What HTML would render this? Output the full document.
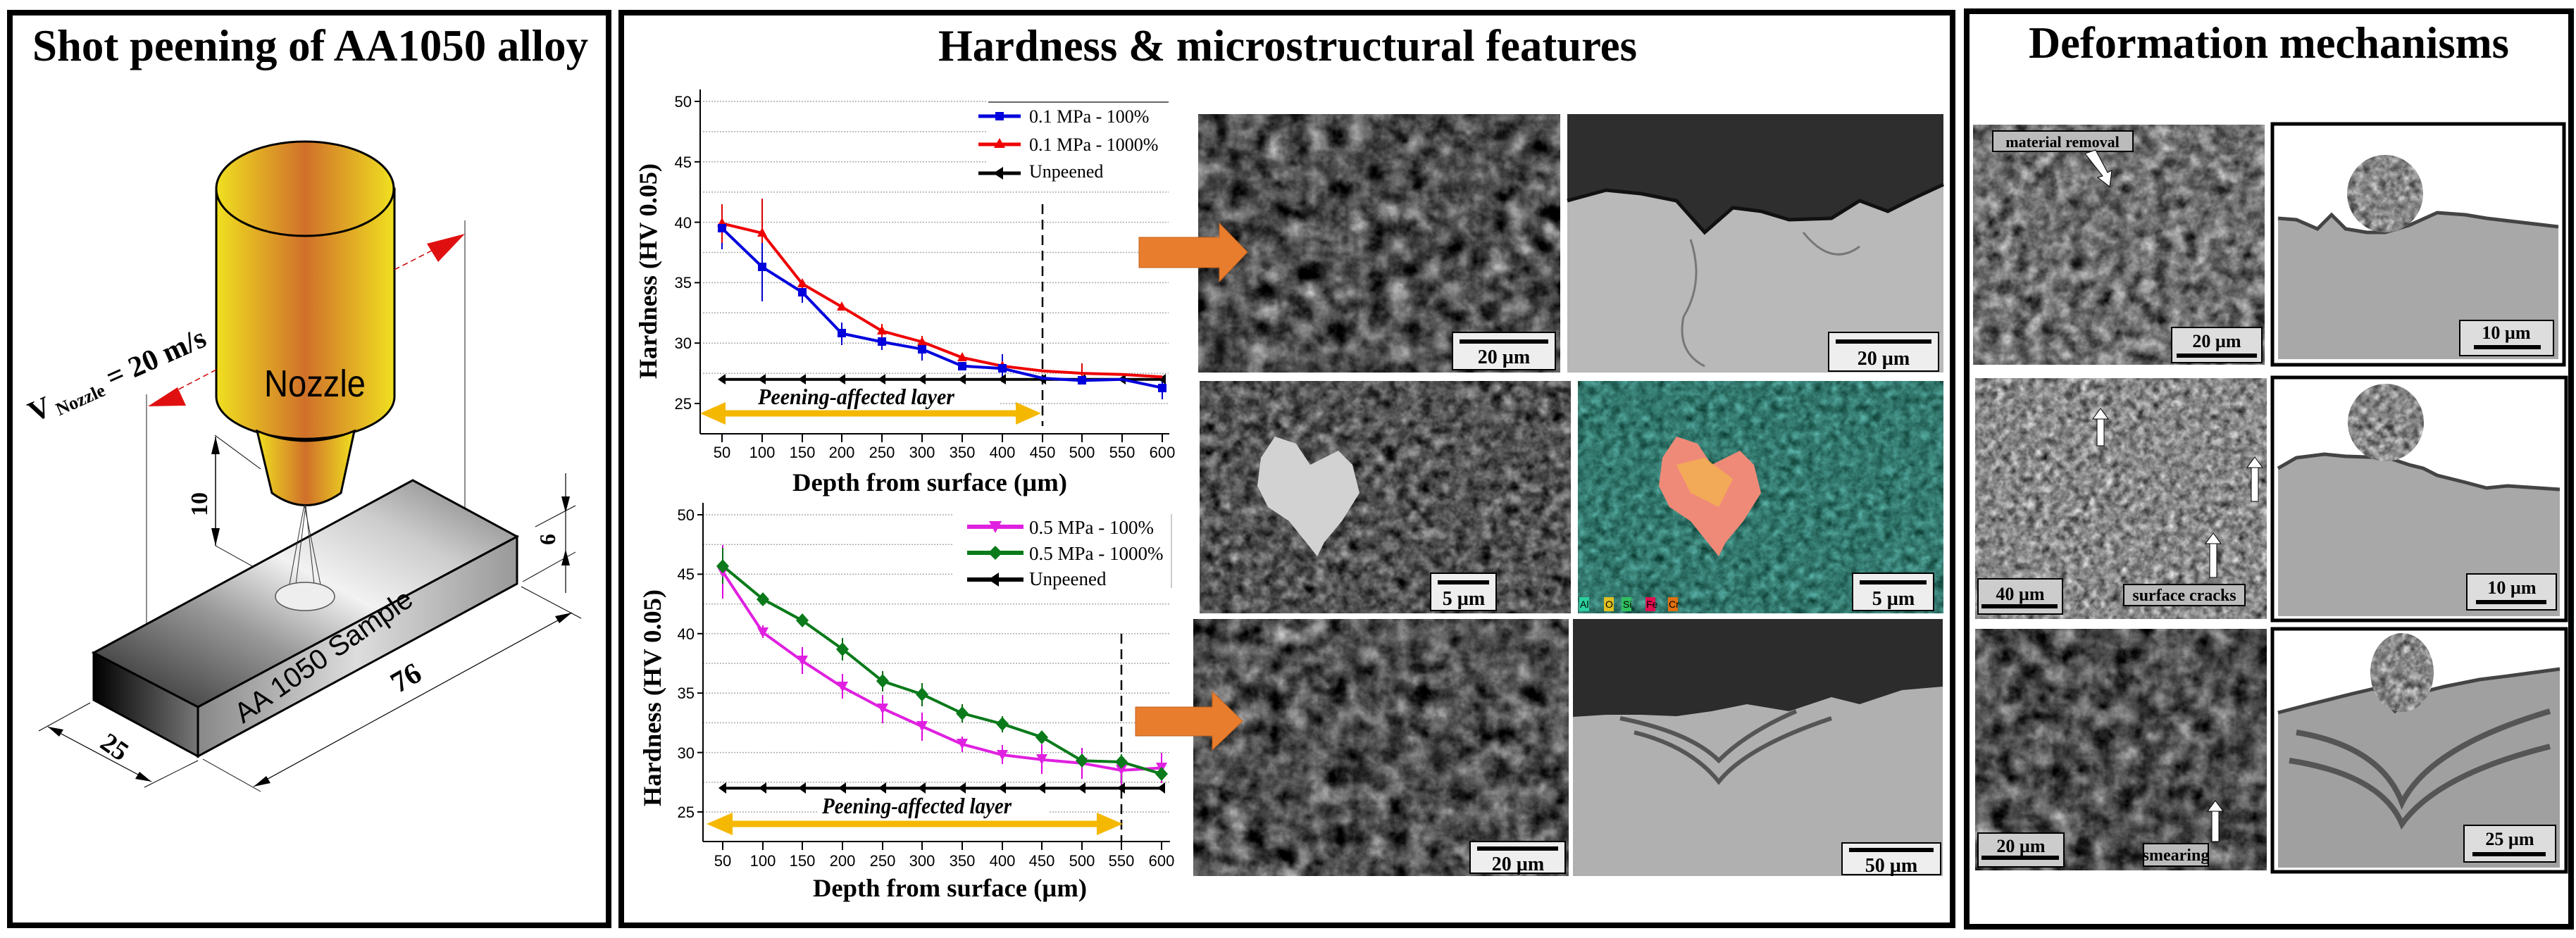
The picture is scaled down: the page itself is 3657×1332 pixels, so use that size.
<!DOCTYPE html>
<html><head><meta charset="utf-8"><style>
html,body{margin:0;padding:0;background:#fff;}
svg{display:block;}
.ser{font-family:"Liberation Serif",serif;}
.san{font-family:"Liberation Sans",sans-serif;}
</style></head><body>
<svg width="3657" height="1332" viewBox="0 0 3657 1332" xmlns="http://www.w3.org/2000/svg">
<defs>
<filter id="fD" x="0" y="0" width="100%" height="100%" color-interpolation-filters="sRGB"><feTurbulence type="fractalNoise" baseFrequency="0.035" numOctaves="4" seed="3"/><feColorMatrix type="matrix" values="0.55 0.55 0.55 0 -0.52 0.55 0.55 0.55 0 -0.52 0.55 0.55 0.55 0 -0.52 0 0 0 0 1"/><feComposite in2="SourceGraphic" operator="in"/></filter>
<filter id="fM" x="0" y="0" width="100%" height="100%" color-interpolation-filters="sRGB"><feTurbulence type="fractalNoise" baseFrequency="0.05" numOctaves="4" seed="9"/><feColorMatrix type="matrix" values="0.5 0.5 0.5 0 -0.32 0.5 0.5 0.5 0 -0.32 0.5 0.5 0.5 0 -0.32 0 0 0 0 1"/><feComposite in2="SourceGraphic" operator="in"/></filter>
<filter id="fL" x="0" y="0" width="100%" height="100%" color-interpolation-filters="sRGB"><feTurbulence type="fractalNoise" baseFrequency="0.09" numOctaves="3" seed="7"/><feColorMatrix type="matrix" values="0.5 0.5 0.5 0 -0.22 0.5 0.5 0.5 0 -0.22 0.5 0.5 0.5 0 -0.22 0 0 0 0 1"/><feComposite in2="SourceGraphic" operator="in"/></filter>
<filter id="fG" x="0" y="0" width="100%" height="100%" color-interpolation-filters="sRGB"><feTurbulence type="fractalNoise" baseFrequency="0.06" numOctaves="3" seed="4"/><feColorMatrix type="matrix" values="0.45 0.45 0.45 0 -0.35 0.45 0.45 0.45 0 -0.35 0.45 0.45 0.45 0 -0.35 0 0 0 0 1"/><feComposite in2="SourceGraphic" operator="in"/></filter>
<filter id="fT" x="0" y="0" width="100%" height="100%" color-interpolation-filters="sRGB"><feTurbulence type="fractalNoise" baseFrequency="0.08" numOctaves="3" seed="2"/><feColorMatrix type="matrix" values="0.2 0.2 0.2 0 -0.1 0.3 0.3 0.3 0 0.02 0.3 0.3 0.3 0 -0.02 0 0 0 0 1"/><feComposite in2="SourceGraphic" operator="in"/></filter>
<linearGradient id="noz" x1="0" x2="1" y1="0" y2="0"><stop offset="0" stop-color="#f0e020"/><stop offset="0.5" stop-color="#d0702a"/><stop offset="1" stop-color="#f0e020"/></linearGradient>
<linearGradient id="top" x1="0" x2="1" y1="1" y2="0"><stop offset="0" stop-color="#222"/><stop offset="0.35" stop-color="#999"/><stop offset="0.55" stop-color="#f2f2f2"/><stop offset="0.75" stop-color="#ccc"/><stop offset="1" stop-color="#777"/></linearGradient>
<linearGradient id="fr" x1="0" x2="1"><stop offset="0" stop-color="#888"/><stop offset="0.5" stop-color="#ddd"/><stop offset="1" stop-color="#999"/></linearGradient>
<linearGradient id="sd" x1="0" x2="1"><stop offset="0" stop-color="#000"/><stop offset="1" stop-color="#777"/></linearGradient>
</defs>

<rect x="14" y="18" width="850" height="1296" fill="none" stroke="#000" stroke-width="8"/>
<rect x="882" y="18" width="1890" height="1296" fill="none" stroke="#000" stroke-width="8"/>
<rect x="2792" y="16" width="858" height="1300" fill="none" stroke="#000" stroke-width="8"/>

<text class="ser" x="46" y="86" font-size="64" font-weight="bold" textLength="789" lengthAdjust="spacingAndGlyphs">Shot peening of AA1050 alloy</text>
<text class="ser" x="1332" y="86" font-size="64" font-weight="bold" textLength="992" lengthAdjust="spacingAndGlyphs">Hardness &amp; microstructural features</text>
<text class="ser" x="2880" y="82" font-size="64" font-weight="bold" textLength="682" lengthAdjust="spacingAndGlyphs">Deformation mechanisms</text>

<!-- LEFT PANEL DRAWING -->
<line x1="660" y1="313" x2="660" y2="760" stroke="#444" stroke-width="1.2"/>
<line x1="208" y1="560" x2="208" y2="964" stroke="#444" stroke-width="1.2"/>
<path d="M307,268 L307,563 A126,60 0 0 0 560,563 L560,268 Z" fill="url(#noz)" stroke="#000" stroke-width="3"/>
<ellipse cx="433" cy="268" rx="126" ry="67" fill="url(#noz)" stroke="#000" stroke-width="3"/>
<path d="M365,612 L386,700 Q434,735 484,700 L503,612 Q434,640 365,612 Z" fill="url(#noz)" stroke="#000" stroke-width="3"/>
<text class="san" x="375" y="563" font-size="54" textLength="144" lengthAdjust="spacingAndGlyphs">Nozzle</text>
<line x1="560" y1="383" x2="640" y2="342" stroke="#c00" stroke-width="1.5" stroke-dasharray="8,5"/>
<polygon points="660,332 606,346 622,372" fill="#e01010"/>
<line x1="307" y1="525" x2="240" y2="560" stroke="#c00" stroke-width="1.5" stroke-dasharray="8,5"/>
<polygon points="210,577 252,550 264,576" fill="#e01010"/>
<text class="ser" transform="translate(48,600) rotate(-24)" font-size="42" font-weight="bold">V<tspan font-size="26" dy="6"> Nozzle</tspan><tspan dy="-6"> = 20 m/s</tspan></text>
<line x1="305" y1="618" x2="370" y2="666" stroke="#000" stroke-width="1"/>
<line x1="306" y1="620" x2="306" y2="775" stroke="#000" stroke-width="1.5"/>
<polygon points="306,620 300,645 312,645" fill="#000"/>
<polygon points="306,775 300,750 312,750" fill="#000"/>
<line x1="306" y1="775" x2="360" y2="805" stroke="#000" stroke-width="1"/>
<text class="ser" transform="translate(294,716) rotate(-90)" font-size="34" font-weight="bold" text-anchor="middle">10</text>
<polygon points="133,927 586,682 734,762 281,1004" fill="url(#top)" stroke="#000" stroke-width="3"/>
<polygon points="281,1004 734,762 734,829 281,1074" fill="url(#fr)" stroke="#000" stroke-width="3"/>
<polygon points="133,927 281,1004 281,1074 133,994" fill="url(#sd)" stroke="#000" stroke-width="3"/>
<text class="san" transform="translate(345,1028) rotate(-35)" font-size="40">AA 1050 Sample</text>
<line x1="432" y1="717" x2="410" y2="835" stroke="#333" stroke-width="1"/>
<line x1="432" y1="717" x2="456" y2="835" stroke="#333" stroke-width="1"/>
<line x1="434" y1="717" x2="420" y2="830" stroke="#333" stroke-width="1"/>
<line x1="434" y1="717" x2="446" y2="830" stroke="#333" stroke-width="1"/>
<ellipse cx="433" cy="847" rx="42" ry="20" fill="#eee" stroke="#555" stroke-width="1.5"/>
<line x1="128" y1="998" x2="55" y2="1038" stroke="#000" stroke-width="1"/>
<line x1="281" y1="1080" x2="205" y2="1118" stroke="#000" stroke-width="1"/>
<line x1="68" y1="1032" x2="215" y2="1110" stroke="#000" stroke-width="1.2"/>
<polygon points="68,1032 90,1036 84,1046" fill="#000"/><polygon points="215,1110 192,1106 198,1096" fill="#000"/>
<text class="ser" transform="translate(140,1060) rotate(35)" font-size="38" font-weight="bold">25</text>
<line x1="288" y1="1078" x2="370" y2="1124" stroke="#000" stroke-width="1"/>
<line x1="740" y1="833" x2="825" y2="878" stroke="#000" stroke-width="1"/>
<line x1="360" y1="1117" x2="812" y2="870" stroke="#000" stroke-width="1.2"/>
<polygon points="360,1117 378,1102 384,1112" fill="#000"/><polygon points="812,870 794,885 788,875" fill="#000"/>
<text class="ser" transform="translate(565,985) rotate(-30)" font-size="42" font-weight="bold">76</text>
<line x1="760" y1="748" x2="817" y2="718" stroke="#000" stroke-width="1"/>
<line x1="742" y1="826" x2="817" y2="784" stroke="#000" stroke-width="1"/>
<line x1="803" y1="672" x2="803" y2="842" stroke="#000" stroke-width="1.2"/>
<polygon points="803,728 797,705 809,705" fill="#000"/><polygon points="803,780 797,803 809,803" fill="#000"/>
<text class="ser" transform="translate(788,774) rotate(-90)" font-size="32" font-weight="bold">6</text>

<!-- CHART 1 -->
<g stroke="#aaa" stroke-width="1.5" stroke-dasharray="2,2">
<line x1="998" y1="144" x2="1400" y2="144"/><line x1="998" y1="186.9" x2="1400" y2="186.9"/><line x1="998" y1="229.8" x2="1400" y2="229.8"/>
<line x1="998" y1="272.7" x2="1659" y2="272.7"/><line x1="998" y1="315.6" x2="1659" y2="315.6"/><line x1="998" y1="358.5" x2="1659" y2="358.5"/>
<line x1="998" y1="401.4" x2="1659" y2="401.4"/><line x1="998" y1="444.3" x2="1659" y2="444.3"/><line x1="998" y1="487.2" x2="1659" y2="487.2"/>
<line x1="998" y1="530.1" x2="1659" y2="530.1"/><line x1="1420" y1="573" x2="1659" y2="573"/>
</g>
<line x1="1403" y1="145" x2="1659" y2="145" stroke="#666" stroke-width="2"/>
<line x1="994" y1="127" x2="994" y2="616" stroke="#000" stroke-width="2"/>
<line x1="994" y1="616" x2="1660" y2="616" stroke="#000" stroke-width="2"/>
<g stroke="#000" stroke-width="2">
<line x1="1025" y1="616" x2="1025" y2="628"/><line x1="1082" y1="616" x2="1082" y2="628"/><line x1="1139" y1="616" x2="1139" y2="628"/><line x1="1195" y1="616" x2="1195" y2="628"/><line x1="1252" y1="616" x2="1252" y2="628"/><line x1="1309" y1="616" x2="1309" y2="628"/><line x1="1366" y1="616" x2="1366" y2="628"/><line x1="1423" y1="616" x2="1423" y2="628"/><line x1="1480" y1="616" x2="1480" y2="628"/><line x1="1536" y1="616" x2="1536" y2="628"/><line x1="1593" y1="616" x2="1593" y2="628"/><line x1="1650" y1="616" x2="1650" y2="628"/>
<line x1="986" y1="144" x2="994" y2="144"/><line x1="986" y1="229.8" x2="994" y2="229.8"/><line x1="986" y1="315.6" x2="994" y2="315.6"/><line x1="986" y1="401.4" x2="994" y2="401.4"/><line x1="986" y1="487.2" x2="994" y2="487.2"/><line x1="986" y1="573" x2="994" y2="573"/>
</g>
<g class="san" font-size="22" text-anchor="end">
<text x="982" y="152">50</text><text x="982" y="238">45</text><text x="982" y="324">40</text><text x="982" y="409">35</text><text x="982" y="495">30</text><text x="982" y="581">25</text>
</g>
<g class="san" font-size="22" text-anchor="middle">
<text x="1025" y="650">50</text><text x="1082" y="650">100</text><text x="1139" y="650">150</text><text x="1195" y="650">200</text><text x="1252" y="650">250</text><text x="1309" y="650">300</text><text x="1366" y="650">350</text><text x="1423" y="650">400</text><text x="1480" y="650">450</text><text x="1536" y="650">500</text><text x="1593" y="650">550</text><text x="1650" y="650">600</text>
</g>
<text class="ser" transform="translate(932,385) rotate(-90)" font-size="36" font-weight="bold" text-anchor="middle" textLength="306" lengthAdjust="spacingAndGlyphs">Hardness (HV 0.05)</text>
<text class="ser" x="1125" y="697" font-size="36" font-weight="bold" textLength="390" lengthAdjust="spacingAndGlyphs">Depth from surface (µm)</text>
<line x1="1480" y1="290" x2="1480" y2="605" stroke="#000" stroke-width="2.5" stroke-dasharray="14,8"/>
<g stroke="#0000cc" stroke-width="2">
<line x1="1025" y1="294" x2="1025" y2="354"/><line x1="1082" y1="340" x2="1082" y2="428"/><line x1="1139" y1="400" x2="1139" y2="430"/><line x1="1195" y1="458" x2="1195" y2="490"/><line x1="1252" y1="475" x2="1252" y2="497"/><line x1="1309" y1="478" x2="1309" y2="512"/><line x1="1423" y1="503" x2="1423" y2="543"/><line x1="1650" y1="535" x2="1650" y2="567"/>
</g>
<g stroke="#dd0000" stroke-width="2">
<line x1="1025" y1="290" x2="1025" y2="345"/><line x1="1082" y1="282" x2="1082" y2="345"/><line x1="1139" y1="397" x2="1139" y2="412"/><line x1="1252" y1="460" x2="1252" y2="480"/><line x1="1309" y1="477" x2="1309" y2="494"/><line x1="1536" y1="516" x2="1536" y2="540"/>
</g>
<polyline points="1025,538.7 1650,538.7" stroke="#000" stroke-width="4" fill="none"/>
<g fill="#000">
<polygon points="1019,538.7 1030,531 1030,546"/><polygon points="1076,538.7 1087,531 1087,546"/><polygon points="1133,538.7 1144,531 1144,546"/><polygon points="1189,538.7 1200,531 1200,546"/><polygon points="1246,538.7 1257,531 1257,546"/><polygon points="1303,538.7 1314,531 1314,546"/><polygon points="1360,538.7 1371,531 1371,546"/><polygon points="1417,538.7 1428,531 1428,546"/><polygon points="1474,538.7 1485,531 1485,546"/><polygon points="1530,538.7 1541,531 1541,546"/><polygon points="1587,538.7 1598,531 1598,546"/><polygon points="1644,538.7 1655,531 1655,546"/>
</g>
<polyline points="1025,317.3 1082,331 1139,403.1 1195,435.7 1252,470 1309,485.5 1366,507.8 1423,519.8 1480,526.7 1536,530.1 1593,531.8 1650,535.2" stroke="#e00" stroke-width="4" fill="none"/>
<g fill="#e00"><polygon points="1025,309 1018,322 1032,322"/><polygon points="1082,323 1075,336 1089,336"/><polygon points="1139,395 1132,408 1146,408"/><polygon points="1195,428 1188,441 1202,441"/><polygon points="1252,462 1245,475 1259,475"/><polygon points="1309,478 1302,491 1316,491"/><polygon points="1366,500 1359,513 1373,513"/><polygon points="1423,512 1416,525 1430,525"/></g>
<polyline points="1025,324.2 1082,379.1 1139,415.1 1195,473.5 1252,485.5 1309,495.8 1366,519.8 1423,523.2 1480,537 1536,540.4 1593,538.7 1650,550.7" stroke="#0000dd" stroke-width="4" fill="none"/>
<g fill="#0000dd"><rect x="1019" y="318" width="12" height="12"/><rect x="1076" y="373" width="12" height="12"/><rect x="1133" y="409" width="12" height="12"/><rect x="1189" y="467" width="12" height="12"/><rect x="1246" y="479" width="12" height="12"/><rect x="1303" y="490" width="12" height="12"/><rect x="1360" y="514" width="12" height="12"/><rect x="1417" y="517" width="12" height="12"/><rect x="1530" y="534" width="12" height="12"/><rect x="1644" y="545" width="12" height="12"/></g>
<line x1="1389" y1="165" x2="1449" y2="165" stroke="#0000dd" stroke-width="5"/><rect x="1413" y="159" width="12" height="12" fill="#0000dd"/>
<text class="ser" x="1461" y="174" font-size="26">0.1 MPa - 100%</text>
<line x1="1389" y1="205" x2="1449" y2="205" stroke="#e00" stroke-width="5"/><polygon points="1419,196 1411,210 1427,210" fill="#e00"/>
<text class="ser" x="1461" y="214" font-size="26">0.1 MPa - 1000%</text>
<line x1="1389" y1="246" x2="1449" y2="246" stroke="#000" stroke-width="5"/><polygon points="1410,246 1424,237 1424,255" fill="#000"/>
<text class="ser" x="1461" y="252" font-size="26">Unpeened</text>
<text class="ser" x="1076" y="574" font-size="32" font-weight="bold" font-style="italic" textLength="279" lengthAdjust="spacingAndGlyphs">Peening-affected layer</text>
<line x1="1020" y1="587" x2="1450" y2="587" stroke="#f5b800" stroke-width="9"/>
<polygon points="994,587 1030,571 1030,603" fill="#f5b800"/><polygon points="1478,587 1442,571 1442,603" fill="#f5b800"/>

<!-- CHART 2 -->
<g stroke="#aaa" stroke-width="1.5" stroke-dasharray="2,2">
<line x1="998" y1="731" x2="1352" y2="731"/><line x1="998" y1="773.2" x2="1352" y2="773.2"/><line x1="998" y1="815.4" x2="1352" y2="815.4"/>
<line x1="998" y1="857.6" x2="1661" y2="857.6"/><line x1="998" y1="899.8" x2="1661" y2="899.8"/><line x1="998" y1="942" x2="1661" y2="942"/>
<line x1="998" y1="984.2" x2="1661" y2="984.2"/><line x1="998" y1="1026.4" x2="1661" y2="1026.4"/><line x1="998" y1="1068.6" x2="1661" y2="1068.6"/>
<line x1="998" y1="1110.8" x2="1661" y2="1110.8"/><line x1="998" y1="1153" x2="1160" y2="1153"/><line x1="1490" y1="1153" x2="1661" y2="1153"/>
</g>
<line x1="1663" y1="730" x2="1663" y2="835" stroke="#bbb" stroke-width="1.5"/>
<line x1="998" y1="714" x2="998" y2="1195" stroke="#000" stroke-width="2"/>
<line x1="998" y1="1195" x2="1661" y2="1195" stroke="#000" stroke-width="2"/>
<g stroke="#000" stroke-width="2">
<line x1="1026" y1="1195" x2="1026" y2="1207"/><line x1="1083" y1="1195" x2="1083" y2="1207"/><line x1="1139" y1="1195" x2="1139" y2="1207"/><line x1="1196" y1="1195" x2="1196" y2="1207"/><line x1="1253" y1="1195" x2="1253" y2="1207"/><line x1="1309" y1="1195" x2="1309" y2="1207"/><line x1="1366" y1="1195" x2="1366" y2="1207"/><line x1="1423" y1="1195" x2="1423" y2="1207"/><line x1="1479" y1="1195" x2="1479" y2="1207"/><line x1="1536" y1="1195" x2="1536" y2="1207"/><line x1="1592" y1="1195" x2="1592" y2="1207"/><line x1="1649" y1="1195" x2="1649" y2="1207"/>
<line x1="990" y1="731" x2="998" y2="731"/><line x1="990" y1="815.4" x2="998" y2="815.4"/><line x1="990" y1="899.8" x2="998" y2="899.8"/><line x1="990" y1="984.2" x2="998" y2="984.2"/><line x1="990" y1="1068.6" x2="998" y2="1068.6"/><line x1="990" y1="1153" x2="998" y2="1153"/>
</g>
<g class="san" font-size="22" text-anchor="end">
<text x="986" y="739">50</text><text x="986" y="823">45</text><text x="986" y="908">40</text><text x="986" y="992">35</text><text x="986" y="1077">30</text><text x="986" y="1161">25</text>
</g>
<g class="san" font-size="22" text-anchor="middle">
<text x="1026" y="1230">50</text><text x="1083" y="1230">100</text><text x="1139" y="1230">150</text><text x="1196" y="1230">200</text><text x="1253" y="1230">250</text><text x="1309" y="1230">300</text><text x="1366" y="1230">350</text><text x="1423" y="1230">400</text><text x="1479" y="1230">450</text><text x="1536" y="1230">500</text><text x="1592" y="1230">550</text><text x="1649" y="1230">600</text>
</g>
<text class="ser" transform="translate(938,991) rotate(-90)" font-size="36" font-weight="bold" text-anchor="middle" textLength="308" lengthAdjust="spacingAndGlyphs">Hardness (HV 0.05)</text>
<text class="ser" x="1154" y="1273" font-size="36" font-weight="bold" textLength="389" lengthAdjust="spacingAndGlyphs">Depth from surface (µm)</text>
<line x1="1592" y1="900" x2="1592" y2="1195" stroke="#000" stroke-width="2.5" stroke-dasharray="14,8"/>
<g stroke="#dd00dd" stroke-width="2">
<line x1="1026" y1="774" x2="1026" y2="850"/><line x1="1083" y1="888" x2="1083" y2="906"/><line x1="1139" y1="919" x2="1139" y2="957"/><line x1="1196" y1="957" x2="1196" y2="992"/><line x1="1253" y1="987" x2="1253" y2="1027"/><line x1="1309" y1="1012" x2="1309" y2="1052"/><line x1="1366" y1="1046" x2="1366" y2="1068"/><line x1="1423" y1="1058" x2="1423" y2="1085"/><line x1="1479" y1="1057" x2="1479" y2="1099"/><line x1="1536" y1="1062" x2="1536" y2="1106"/><line x1="1592" y1="1080" x2="1592" y2="1115"/><line x1="1649" y1="1069" x2="1649" y2="1112"/>
</g>
<g stroke="#0a6a14" stroke-width="2">
<line x1="1026" y1="778" x2="1026" y2="829"/><line x1="1083" y1="844" x2="1083" y2="858"/><line x1="1196" y1="906" x2="1196" y2="938"/><line x1="1253" y1="953" x2="1253" y2="982"/><line x1="1309" y1="970" x2="1309" y2="1003"/><line x1="1366" y1="1000" x2="1366" y2="1026"/><line x1="1423" y1="1017" x2="1423" y2="1040"/><line x1="1479" y1="1040" x2="1479" y2="1054"/><line x1="1536" y1="1071" x2="1536" y2="1090"/><line x1="1592" y1="1071" x2="1592" y2="1094"/><line x1="1649" y1="1083" x2="1649" y2="1108"/>
</g>
<polyline points="1026,1119.2 1649,1119.2" stroke="#000" stroke-width="4" fill="none"/>
<g fill="#000">
<polygon points="1020,1119 1031,1111 1031,1127"/><polygon points="1077,1119 1088,1111 1088,1127"/><polygon points="1133,1119 1144,1111 1144,1127"/><polygon points="1190,1119 1201,1111 1201,1127"/><polygon points="1247,1119 1258,1111 1258,1127"/><polygon points="1303,1119 1314,1111 1314,1127"/><polygon points="1360,1119 1371,1111 1371,1127"/><polygon points="1417,1119 1428,1111 1428,1127"/><polygon points="1473,1119 1484,1111 1484,1127"/><polygon points="1530,1119 1541,1111 1541,1127"/><polygon points="1586,1119 1597,1111 1597,1127"/><polygon points="1643,1119 1654,1111 1654,1127"/>
</g>
<polyline points="1026,812 1083,898.1 1139,938.6 1196,975.8 1253,1006.1 1309,1031.5 1366,1056.8 1423,1072 1479,1078.7 1536,1083.8 1592,1093.9 1649,1090.5" stroke="#e020e0" stroke-width="4" fill="none"/>
<g fill="#e020e0"><polygon points="1018,805 1034,805 1026,820"/><polygon points="1075,891 1091,891 1083,906"/><polygon points="1131,931 1147,931 1139,946"/><polygon points="1188,968 1204,968 1196,983"/><polygon points="1245,999 1261,999 1253,1014"/><polygon points="1301,1024 1317,1024 1309,1039"/><polygon points="1358,1049 1374,1049 1366,1064"/><polygon points="1415,1065 1431,1065 1423,1080"/><polygon points="1471,1071 1487,1071 1479,1086"/><polygon points="1528,1076 1544,1076 1536,1091"/><polygon points="1584,1086 1600,1086 1592,1101"/><polygon points="1641,1083 1657,1083 1649,1098"/></g>
<polyline points="1026,803.6 1083,850.8 1139,881.2 1196,921.7 1253,967.3 1309,985.9 1366,1012.9 1423,1028.1 1479,1046.7 1536,1080.3 1592,1082 1649,1098.9" stroke="#0a7a1a" stroke-width="4" fill="none"/>
<g fill="#0a7a1a"><polygon points="1026,794 1035,804 1026,814 1017,804"/><polygon points="1083,841 1092,851 1083,861 1074,851"/><polygon points="1139,871 1148,881 1139,891 1130,881"/><polygon points="1196,912 1205,922 1196,932 1187,922"/><polygon points="1253,957 1262,967 1253,977 1244,967"/><polygon points="1309,976 1318,986 1309,996 1300,986"/><polygon points="1366,1003 1375,1013 1366,1023 1357,1013"/><polygon points="1423,1018 1432,1028 1423,1038 1414,1028"/><polygon points="1479,1037 1488,1047 1479,1057 1470,1047"/><polygon points="1536,1070 1545,1080 1536,1090 1527,1080"/><polygon points="1592,1072 1601,1082 1592,1092 1583,1082"/><polygon points="1649,1089 1658,1099 1649,1109 1640,1099"/></g>
<line x1="1373" y1="748" x2="1453" y2="748" stroke="#e020e0" stroke-width="6"/><polygon points="1404,740 1422,740 1413,757" fill="#e020e0"/>
<text class="ser" x="1461" y="758" font-size="27">0.5 MPa - 100%</text>
<line x1="1373" y1="785" x2="1453" y2="785" stroke="#0a7a1a" stroke-width="6"/><polygon points="1413,775 1423,785 1413,795 1403,785" fill="#0a7a1a"/>
<text class="ser" x="1461" y="795" font-size="27">0.5 MPa - 1000%</text>
<line x1="1373" y1="823" x2="1453" y2="823" stroke="#000" stroke-width="6"/><polygon points="1403,823 1418,813 1418,833" fill="#000"/>
<text class="ser" x="1461" y="831" font-size="27">Unpeened</text>
<text class="ser" x="1167" y="1155" font-size="32" font-weight="bold" font-style="italic" textLength="269" lengthAdjust="spacingAndGlyphs">Peening-affected layer</text>
<line x1="1030" y1="1170" x2="1565" y2="1170" stroke="#f5b800" stroke-width="9"/>
<polygon points="1003,1170 1040,1154 1040,1186" fill="#f5b800"/><polygon points="1594,1170 1557,1154 1557,1186" fill="#f5b800"/>

<!-- MIDDLE SEM IMAGES -->
<rect x="1701" y="162" width="514" height="367" fill="#000" filter="url(#fD)"/>
<rect x="2225" y="162" width="534" height="367" fill="#b9b9b9"/>
<path d="M2225,162 H2759 V262 L2720,280 L2680,300 L2640,285 L2600,310 L2540,312 L2500,300 L2460,295 L2420,330 L2380,285 L2330,275 L2280,270 L2225,285 Z" fill="#2e2e2e"/>
<path d="M2225,285 L2280,270 L2330,275 L2380,285 L2420,330 L2460,295 L2500,300 L2540,312 L2600,310 L2640,285 L2680,300 L2720,280 L2759,262" fill="none" stroke="#111" stroke-width="5"/>
<path d="M2400,340 Q2420,400 2390,450 Q2380,500 2420,520 M2560,330 Q2600,380 2640,350" fill="none" stroke="#777" stroke-width="3"/>
<rect x="2062" y="472" width="146" height="53" fill="#eee" stroke="#000" stroke-width="2"/><rect x="2072" y="482" width="126" height="6" fill="#000"/>
<text class="ser" x="2135" y="516" font-size="28" font-weight="bold" text-anchor="middle">20 µm</text>
<rect x="2596" y="472" width="156" height="55" fill="#eee" stroke="#000" stroke-width="2"/><rect x="2606" y="482" width="136" height="6" fill="#000"/>
<text class="ser" x="2674" y="518" font-size="28" font-weight="bold" text-anchor="middle">20 µm</text>
<rect x="1703" y="541" width="527" height="330" fill="#000" filter="url(#fG)"/>
<path d="M1790,650 L1810,620 L1840,630 L1860,660 L1900,640 L1920,660 L1930,700 L1905,740 L1880,770 L1870,790 L1830,740 L1800,720 L1785,690 Z" fill="#d2d2d2"/>
<rect x="2240" y="541" width="519" height="330" fill="#000" filter="url(#fT)"/>
<path d="M2360,650 L2380,620 L2410,630 L2430,660 L2470,640 L2490,660 L2500,700 L2475,740 L2450,770 L2440,790 L2400,740 L2370,720 L2355,690 Z" fill="#f08a78"/>
<path d="M2380,660 L2420,650 L2460,680 L2440,720 L2400,700 Z" fill="#f3b050" opacity="0.8"/>
<rect x="2031" y="814" width="93" height="53" fill="#eee" stroke="#000" stroke-width="2"/><rect x="2041" y="824" width="73" height="6" fill="#000"/>
<text class="ser" x="2078" y="859" font-size="28" font-weight="bold" text-anchor="middle">5 µm</text>
<rect x="2630" y="814" width="115" height="53" fill="#eee" stroke="#000" stroke-width="2"/><rect x="2640" y="824" width="95" height="6" fill="#000"/>
<text class="ser" x="2688" y="859" font-size="28" font-weight="bold" text-anchor="middle">5 µm</text>
<g class="san" font-size="14"><rect x="2242" y="848" width="14" height="20" fill="#2ad0a0"/><text x="2243" y="863">Al</text><rect x="2277" y="848" width="14" height="20" fill="#e0c020"/><text x="2279" y="863">O</text><rect x="2302" y="848" width="14" height="20" fill="#30c060"/><text x="2304" y="863">Si</text><rect x="2336" y="848" width="14" height="20" fill="#e01050"/><text x="2337" y="863">Fe</text><rect x="2368" y="848" width="14" height="20" fill="#e07010"/><text x="2369" y="863">Cr</text></g>
<rect x="1694" y="879" width="533" height="365" fill="#000" filter="url(#fD)"/>
<rect x="2233" y="879" width="525" height="365" fill="#b0b0b0"/>
<path d="M2233,879 H2758 V975 L2700,980 L2640,1000 L2600,990 L2540,1010 L2480,1000 L2430,1010 L2380,1017 L2330,1015 L2280,1015 L2233,1018 Z" fill="#2c2c2c"/>
<path d="M2300,1020 Q2400,1040 2440,1080 Q2480,1040 2550,1010 M2320,1040 Q2400,1060 2440,1110 Q2480,1060 2600,1020" fill="none" stroke="#555" stroke-width="6"/>
<rect x="2087" y="1195" width="135" height="45" fill="#eee" stroke="#000" stroke-width="2"/><rect x="2097" y="1202" width="115" height="6" fill="#000"/>
<text class="ser" x="2155" y="1236" font-size="28" font-weight="bold" text-anchor="middle">20 µm</text>
<rect x="2615" y="1197" width="140" height="45" fill="#eee" stroke="#000" stroke-width="2"/><rect x="2625" y="1204" width="120" height="6" fill="#000"/>
<text class="ser" x="2685" y="1238" font-size="28" font-weight="bold" text-anchor="middle">50 µm</text>

<!-- orange arrows (on top of images) -->
<polygon points="1617,337 1731,337 1731,317 1771,358 1731,400 1731,380 1617,380" fill="#e87e2d" stroke="#c06020" stroke-width="1"/>
<polygon points="1612,1004 1721,1004 1721,982 1764,1024 1721,1065 1721,1045 1612,1045" fill="#e87e2d" stroke="#c06020" stroke-width="1"/>

<!-- RIGHT PANEL -->
<rect x="2801" y="177" width="414" height="341" fill="#000" filter="url(#fM)"/>
<rect x="2829" y="186" width="199" height="29" fill="#bbb" stroke="#000" stroke-width="2"/>
<text class="ser" x="2928" y="209" font-size="22" font-weight="bold" text-anchor="middle">material removal</text>
<polygon points="2960,218 2975,213 2992,245 2998,242 2995,265 2978,252 2985,250" fill="#fff" stroke="#000" stroke-width="1"/>
<rect x="3083" y="465" width="128" height="50" fill="#ddd" stroke="#000" stroke-width="2"/>
<text class="ser" x="3147" y="493" font-size="26" font-weight="bold" text-anchor="middle">20 µm</text><rect x="3090" y="502" width="114" height="6" fill="#000"/>
<rect x="3226" y="176" width="414" height="342" fill="#fff" stroke="#000" stroke-width="5"/>
<path d="M3234,310 L3260,312 L3290,325 L3310,305 L3330,325 L3360,330 L3386,330 L3420,320 L3460,302 L3500,305 L3530,310 L3632,322 V510 H3234 Z" fill="#a8a8a8"/>
<path d="M3234,310 L3260,312 L3290,325 L3310,305 L3330,325 L3360,330 L3386,330 L3420,320 L3460,302 L3500,305 L3530,310 L3632,322" fill="none" stroke="#444" stroke-width="5"/>
<ellipse cx="3386" cy="275" rx="54" ry="55" fill="#000" filter="url(#fL)"/>
<rect x="3492" y="455" width="133" height="50" fill="#ddd" stroke="#000" stroke-width="2"/>
<text class="ser" x="3558" y="481" font-size="26" font-weight="bold" text-anchor="middle">10 µm</text><rect x="3512" y="490" width="95" height="6" fill="#000"/>
<rect x="2804" y="537" width="414" height="342" fill="#000" filter="url(#fL)"/>
<rect x="2977" y="593" width="10" height="40" fill="#fff" stroke="#000"/><polygon points="2971,595 2982,580 2993,595" fill="#fff" stroke="#000"/>
<rect x="3196" y="662" width="10" height="50" fill="#fff" stroke="#000"/><polygon points="3190,664 3201,649 3212,664" fill="#fff" stroke="#000"/>
<rect x="3137" y="770" width="10" height="50" fill="#fff" stroke="#000"/><polygon points="3131,772 3142,757 3153,772" fill="#fff" stroke="#000"/>
<rect x="2808" y="822" width="120" height="50" fill="#ccc" stroke="#000" stroke-width="2"/>
<text class="ser" x="2868" y="852" font-size="26" font-weight="bold" text-anchor="middle">40 µm</text><rect x="2813" y="858" width="108" height="6" fill="#000"/>
<rect x="3015" y="830" width="172" height="30" fill="#bbb" stroke="#000" stroke-width="2"/>
<text class="ser" x="3101" y="853" font-size="24" font-weight="bold" text-anchor="middle">surface cracks</text>
<rect x="3226" y="536" width="417" height="345" fill="#fff" stroke="#000" stroke-width="5"/>
<path d="M3234,665 L3260,650 L3300,645 L3330,648 L3390,650 L3420,660 L3440,665 L3460,675 L3500,685 L3530,693 L3560,690 L3634,695 V875 H3234 Z" fill="#a8a8a8"/>
<path d="M3234,665 L3260,650 L3300,645 L3330,648 L3390,650 L3420,660 L3440,665 L3460,675 L3500,685 L3530,693 L3560,690 L3634,695" fill="none" stroke="#444" stroke-width="5"/>
<ellipse cx="3387" cy="600" rx="54" ry="55" fill="#000" filter="url(#fL)"/>
<rect x="3502" y="815" width="127" height="51" fill="#ddd" stroke="#000" stroke-width="2"/>
<text class="ser" x="3566" y="843" font-size="26" font-weight="bold" text-anchor="middle">10 µm</text><rect x="3515" y="852" width="100" height="6" fill="#000"/>
<rect x="2804" y="893" width="414" height="343" fill="#000" filter="url(#fD)"/>
<rect x="3140" y="1150" width="10" height="45" fill="#fff" stroke="#000"/><polygon points="3134,1152 3145,1137 3156,1152" fill="#fff" stroke="#000"/>
<rect x="2808" y="1183" width="122" height="48" fill="#ccc" stroke="#000" stroke-width="2"/>
<text class="ser" x="2869" y="1210" font-size="26" font-weight="bold" text-anchor="middle">20 µm</text><rect x="2813" y="1215" width="110" height="6" fill="#000"/>
<rect x="3043" y="1198" width="92" height="32" fill="#bbb" stroke="#000" stroke-width="2"/>
<text class="ser" x="3089" y="1222" font-size="24" font-weight="bold" text-anchor="middle">smearing</text>
<rect x="3226" y="893" width="417" height="345" fill="#fff" stroke="#000" stroke-width="5"/>
<path d="M3234,1012 L3280,1000 L3340,985 L3370,978 L3400,1010 L3430,985 L3470,975 L3520,965 L3560,960 L3634,950 V1232 H3234 Z" fill="#a0a0a0"/>
<path d="M3260,1040 Q3380,1060 3410,1140 Q3450,1060 3620,1010 M3250,1080 Q3380,1100 3410,1170 Q3460,1100 3620,1060" fill="none" stroke="#555" stroke-width="8"/>
<path d="M3234,1012 L3280,1000 L3340,985 L3370,978 L3400,1010 L3430,985 L3470,975 L3520,965 L3560,960 L3634,950" fill="none" stroke="#444" stroke-width="5"/>
<ellipse cx="3410" cy="955" rx="45" ry="56" fill="#000" filter="url(#fL)"/>
<rect x="3498" y="1172" width="130" height="52" fill="#ddd" stroke="#000" stroke-width="2"/>
<text class="ser" x="3563" y="1200" font-size="26" font-weight="bold" text-anchor="middle">25 µm</text><rect x="3510" y="1210" width="104" height="6" fill="#000"/>
</svg>
</body></html>
